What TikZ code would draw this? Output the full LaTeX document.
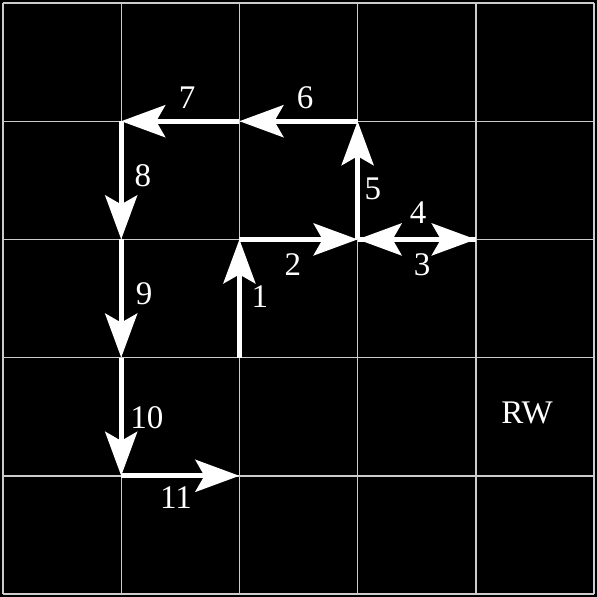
\documentclass[tikz,border=0pt]{standalone}
\usepackage{fontspec}
\setmainfont{Liberation Serif}
\usetikzlibrary{arrows.meta}

\tikzset{
  gridline/.style={draw=black!20, line width=1.4pt},
  move/.style={draw=white, line width=5pt,
    -{Stealth[length=44pt,width=32pt,inset=9pt]}},
  steplabel/.style={text=white, font=\fontsize{33}{33}\selectfont, inner sep=0pt}
}

\begin{document}
\begin{tikzpicture}[x=118.2pt,y=-118.2pt]
        % background and margins
        \fill[black] (-3pt,3pt) rectangle ([shift={(3pt,-3pt)}]5,5);
        % grid
        \foreach \i in {0,...,5} {
            \draw[gridline] (\i,0) -- (\i,5);
            \draw[gridline] (0,\i) -- (5,\i);
        }
        % grid points
        \foreach \i in {0,...,5}
            \foreach \j in {0,...,5}
                \coordinate (p\i\j) at (\i,\j);
        % path of the walk
        \draw[move] (p23) -- (p22);
        \draw[move] (p22) -- (p32);
        \draw[move] (p32) -- (p42);
        \draw[move] (p42) -- (p32);
        \draw[move] (p32) -- (p31);
        \draw[move] (p31) -- (p21);
        \draw[move] (p21) -- (p11);
        \draw[move] (p11) -- (p12);
        \draw[move] (p12) -- (p13);
        \draw[move] (p13) -- (p14);
        \draw[move] (p14) -- (p24);
        % step numbers
        \node[steplabel] (n1) at (2.173, 2.485) {1};
        \node[steplabel] (n2) at (2.453, 2.217) {2};
        \node[steplabel] (n3) at (3.545, 2.217) {3};
        \node[steplabel] (n4) at (3.511, 1.777) {4};
        \node[steplabel] (n5) at (3.130, 1.574) {5};
        \node[steplabel] (n6) at (2.555, 0.804) {6};
        \node[steplabel] (n7) at (1.557, 0.804) {7};
        \node[steplabel] (n8) at (1.184, 1.464) {8};
        \node[steplabel] (n9) at (1.193, 2.462) {9};
        \node[steplabel] (n10) at (1.218, 3.511) {10};
        \node[steplabel] (n11) at (1.464, 4.188) {11};
        \node[steplabel] (rw) at (4.433, 3.469) {RW};
    \end{tikzpicture}
\end{document}
